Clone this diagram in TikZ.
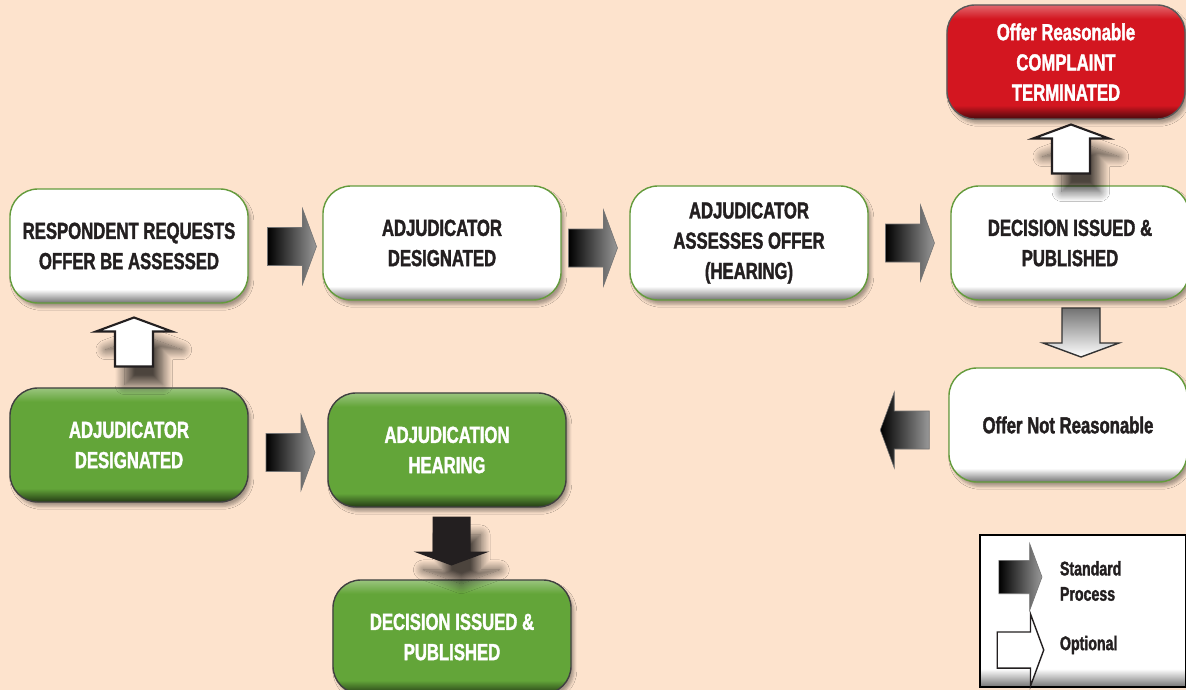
\documentclass[tikz,border=0pt]{standalone}
\usepackage{fontspec}
\setmainfont[FakeStretch=0.72, BoldFeatures={FakeBold=1.6}]{Liberation Sans}
\usetikzlibrary{calc}
\usetikzlibrary{shadows.blur}
\definecolor{pagebg}{RGB}{253,227,205}
\definecolor{stepgreen}{RGB}{99,165,57}
\definecolor{stepred}{RGB}{211,22,32}
\definecolor{edgegreen}{RGB}{100,155,60}
\definecolor{inkblack}{RGB}{35,31,32}
\pgfdeclareverticalshading{whitebtn}{100bp}{color(0bp)=(black!55); color(25bp)=(black!55); color(31bp)=(white); color(100bp)=(white)}
\pgfdeclareverticalshading{greenbtn}{100bp}{color(0bp)=(stepgreen!35!black); color(25bp)=(stepgreen!35!black); color(31bp)=(stepgreen); color(69bp)=(stepgreen); color(75bp)=(stepgreen!65!white); color(100bp)=(stepgreen!65!white)}
\pgfdeclareverticalshading{redbtn}{100bp}{color(0bp)=(stepred!35!black); color(25bp)=(stepred!35!black); color(31bp)=(stepred); color(69bp)=(stepred); color(75bp)=(stepred!65!white); color(100bp)=(stepred!65!white)}
\newcommand{\boxfont}{\fontsize{16.5}{21.5}\selectfont\bfseries}
\newcommand{\keyfont}{\fontsize{14}{18}\selectfont\bfseries}
\tikzset{
  stepbox/.style={draw=edgegreen, line width=1pt, rounded corners=0.7cm, minimum width=5.95cm, minimum height=2.85cm, align=center, text=inkblack, font=\boxfont, shade, shading=whitebtn, blur shadow={shadow xshift=2pt, shadow yshift=-3pt, shadow opacity=35}},
  greenbox/.style={stepbox, draw=black!75, shading=greenbtn, text=white},
  redbox/.style={stepbox, draw=black!65, shading=redbtn, text=white},
  keybox/.style={draw=black, line width=1pt, minimum width=5.15cm, minimum height=3.8cm, shade, shading=whitebtn},
  keytext/.style={anchor=west, align=left, text=inkblack, font=\keyfont},
  stdarrow/.style={draw=black!55, left color=black, right color=black!40},
  optarrow/.style={draw=inkblack, line width=1.5pt, fill=white, blur shadow={shadow xshift=7pt, shadow yshift=-13pt, shadow opacity=70, shadow blur radius=7pt, shadow blur steps=16}},
  darkarrow/.style={fill=inkblack, blur shadow={shadow xshift=7pt, shadow yshift=-13pt, shadow opacity=70, shadow blur radius=7pt, shadow blur steps=16}},
  greyarrow/.style={draw=black!80, line width=1pt, top color=black!55, bottom color=white},
  pics/barrow/.style={code={
    \path[#1] (-24,-19) -- (11,-19) -- (11,-38) -- (25,0) -- (11,38) -- (11,19) -- (-24,19) -- cycle;
  }}
}

\begin{document}
\begin{tikzpicture}[x=0.025cm, y=-0.025cm]
  \useasboundingbox (0,0) rectangle (1186,690);
  \fill[pagebg] (0,0) rectangle (1186,690);

  \node[stepbox] (resp) at (129,246) {RESPONDENT REQUESTS\\OFFER BE ASSESSED};
  \node[stepbox] (adjA) at (442,243) {ADJUDICATOR\\DESIGNATED};
  \node[stepbox] (assess) at (749,243) {ADJUDICATOR\\ASSESSES OFFER\\(HEARING)};
  \node[stepbox] (decA) at (1070,243) {DECISION ISSUED \&\\PUBLISHED};
  \node[redbox] (term) at (1066,62) {Offer Reasonable\\COMPLAINT\\TERMINATED};
  \node[stepbox] (notok) at (1068,425) {Offer Not Reasonable};
  \node[greenbox] (adjB) at (129,445) {ADJUDICATOR\\DESIGNATED};
  \node[greenbox] (hear) at (447,450) {ADJUDICATION\\HEARING};
  \node[greenbox] (decB) at (452,637) {DECISION ISSUED \&\\PUBLISHED};

  \pic at ($(resp.east)!0.5!(adjA.west)+(6,2)$) {barrow=stdarrow};
  \pic at ($(adjA.east)!0.5!(assess.west)+(-3,5)$) {barrow=stdarrow};
  \pic at ($(assess.east)!0.5!(decA.west)$) {barrow=stdarrow};
  \pic at ($(adjB.east)!0.5!(hear.west)+(2,5)$) {barrow=stdarrow};
  \pic[rotate=180] at ($(notok.west)+(-43,5)$) {barrow=stdarrow};
  \pic[rotate=-90] at ($(hear.south)!0.5!(decB.north)+(2,-3)$) {barrow=darkarrow};
  \pic[rotate=90] at ($(adjB.north)!0.5!(resp.south)+(5,-3)$) {barrow=optarrow};
  \pic[rotate=90] at ($(decA.north)!0.5!(term.south)+(3,-3)$) {barrow=optarrow};
  \pic[rotate=-90] at ($(decA.south)!0.5!(notok.north)+(12,-2)$) {barrow=greyarrow};

  \node[keybox] (key) at (1083,611) {};
  \pic[scale=0.88] at (1020,577) {barrow=stdarrow};
  \pic[scale=0.95] at (1020,650) {barrow={draw=inkblack, line width=1pt, fill=white}};
  \node[keytext] (keyStd) at (1055,581) {Standard\\Process};
  \node[keytext] (keyOpt) at (1055,645) {Optional};
\end{tikzpicture}
\end{document}
